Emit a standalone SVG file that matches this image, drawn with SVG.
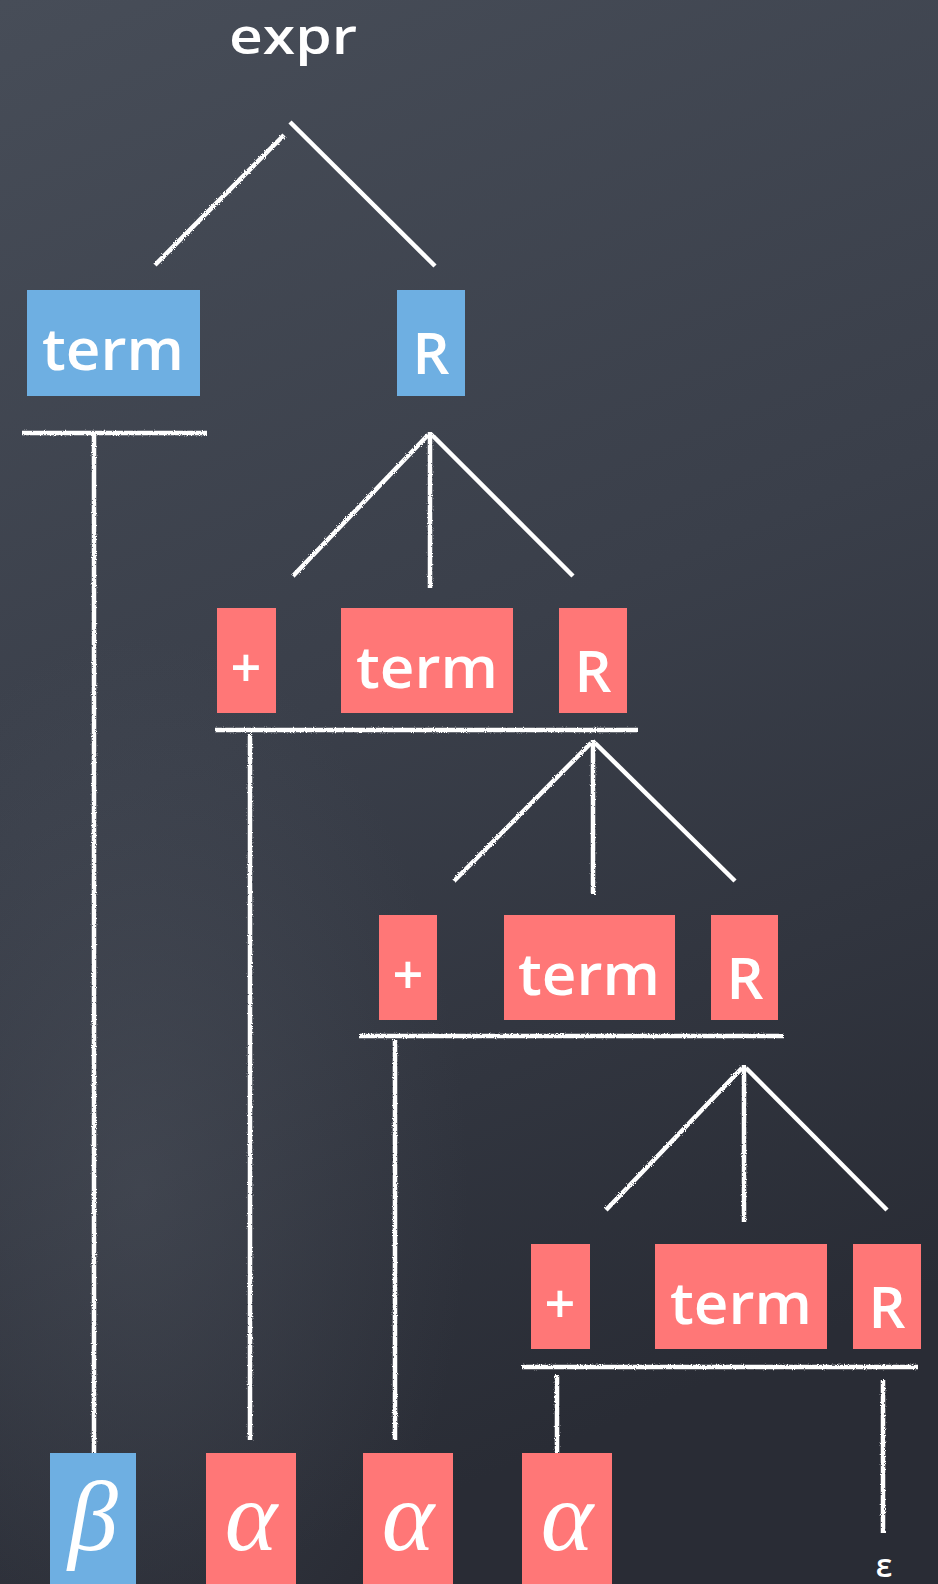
<svg xmlns="http://www.w3.org/2000/svg" width="938" height="1584" viewBox="0 0 938 1584">
<defs>
<linearGradient id="bg" x1="0" y1="0" x2="0.25" y2="1">
<stop offset="0" stop-color="#474d58"/>
<stop offset="0.5" stop-color="#3a3f4a"/>
<stop offset="1" stop-color="#292c35"/>
</linearGradient>
<radialGradient id="glow" cx="0.15" cy="0.75" r="0.35">
<stop offset="0" stop-color="#5a606b" stop-opacity="0.35"/>
<stop offset="1" stop-color="#5a606b" stop-opacity="0"/>
</radialGradient>
<filter id="rough" x="-5%" y="-5%" width="110%" height="110%">
<feTurbulence type="fractalNoise" baseFrequency="0.9" numOctaves="1" seed="3"/>
<feDisplacementMap in="SourceGraphic" scale="3"/>
</filter>
<style>
.chalk{stroke:#ffffff;stroke-width:4.5;stroke-linecap:butt;fill:none}
.blue{fill:#6eafe2}
.red{fill:#ff7777}
.lbl{fill:#ffffff;font-family:"Open Sans","DejaVu Sans",sans-serif;font-weight:600;text-anchor:middle}
.greek{fill:#ffffff;font-family:"Liberation Serif",serif;font-style:italic;text-anchor:middle}
</style>
</defs>
<rect width="938" height="1584" fill="url(#bg)"/>
<rect width="938" height="1584" fill="url(#glow)"/>

<g id="connectors" filter="url(#rough)">
<line class="chalk" x1="155" y1="265" x2="284" y2="135"/>
<line class="chalk" x1="290" y1="122" x2="435" y2="266"/>
<line class="chalk" x1="22" y1="433" x2="207" y2="433"/>
<line class="chalk" x1="94" y1="434" x2="94" y2="1453"/>
<line class="chalk" x1="428" y1="435" x2="293" y2="576"/>
<line class="chalk" x1="430" y1="432" x2="430" y2="588"/>
<line class="chalk" x1="432" y1="435" x2="573" y2="576"/>
<line class="chalk" x1="215" y1="730" x2="638" y2="730"/>
<line class="chalk" x1="250" y1="734" x2="250" y2="1440"/>
<line class="chalk" x1="591" y1="743" x2="454" y2="881"/>
<line class="chalk" x1="593" y1="740" x2="593" y2="894"/>
<line class="chalk" x1="595" y1="743" x2="735" y2="881"/>
<line class="chalk" x1="359" y1="1036" x2="784" y2="1036"/>
<line class="chalk" x1="395" y1="1040" x2="395" y2="1440"/>
<line class="chalk" x1="742" y1="1068" x2="606" y2="1210"/>
<line class="chalk" x1="744" y1="1065" x2="744" y2="1222"/>
<line class="chalk" x1="746" y1="1068" x2="887" y2="1210"/>
<line class="chalk" x1="522" y1="1367" x2="918" y2="1367"/>
<line class="chalk" x1="557" y1="1375" x2="557" y2="1453"/>
<line class="chalk" x1="883" y1="1380" x2="883" y2="1533"/>
</g>

<g id="expr"><text class="lbl" x="293" y="54" font-size="48" textLength="128" lengthAdjust="spacingAndGlyphs">expr</text></g>

<g id="term1"><rect class="blue" x="27" y="290" width="173" height="106"/><text class="lbl" x="113" y="370" font-size="58" textLength="142" lengthAdjust="spacingAndGlyphs">term</text></g>
<g id="R1"><rect class="blue" x="397" y="290" width="68" height="106"/><text class="lbl" x="431" y="374" font-size="58">R</text></g>

<g id="plus2"><rect class="red" x="217" y="608" width="59" height="105"/><text class="lbl" x="246" y="687" font-size="54">+</text></g>
<g id="term2"><rect class="red" x="341" y="608" width="172" height="105"/><text class="lbl" x="427" y="688" font-size="58" textLength="142" lengthAdjust="spacingAndGlyphs">term</text></g>
<g id="R2"><rect class="red" x="559" y="608" width="68" height="105"/><text class="lbl" x="593" y="692" font-size="58">R</text></g>

<g id="plus3"><rect class="red" x="379" y="915" width="58" height="105"/><text class="lbl" x="408" y="994" font-size="54">+</text></g>
<g id="term3"><rect class="red" x="504" y="915" width="171" height="105"/><text class="lbl" x="589" y="995" font-size="58" textLength="142" lengthAdjust="spacingAndGlyphs">term</text></g>
<g id="R3"><rect class="red" x="711" y="915" width="67" height="105"/><text class="lbl" x="745" y="999" font-size="58">R</text></g>

<g id="plus4"><rect class="red" x="531" y="1244" width="59" height="105"/><text class="lbl" x="560" y="1323" font-size="54">+</text></g>
<g id="term4"><rect class="red" x="655" y="1244" width="172" height="105"/><text class="lbl" x="741" y="1324" font-size="58" textLength="142" lengthAdjust="spacingAndGlyphs">term</text></g>
<g id="R4"><rect class="red" x="853" y="1244" width="68" height="105"/><text class="lbl" x="887" y="1328" font-size="58">R</text></g>

<g id="beta"><rect class="blue" x="50" y="1453" width="86" height="131"/><text class="greek" x="93" y="1550" font-size="100">β</text></g>
<g id="alpha1"><rect class="red" x="206" y="1453" width="90" height="131"/><text class="greek" x="251" y="1550" font-size="100">α</text></g>
<g id="alpha2"><rect class="red" x="363" y="1453" width="90" height="131"/><text class="greek" x="408" y="1550" font-size="100">α</text></g>
<g id="alpha3"><rect class="red" x="522" y="1453" width="90" height="131"/><text class="greek" x="567" y="1550" font-size="100">α</text></g>
<g id="epsilon"><text class="lbl" x="884" y="1577" font-size="32" font-weight="400">ε</text></g>
</svg>
